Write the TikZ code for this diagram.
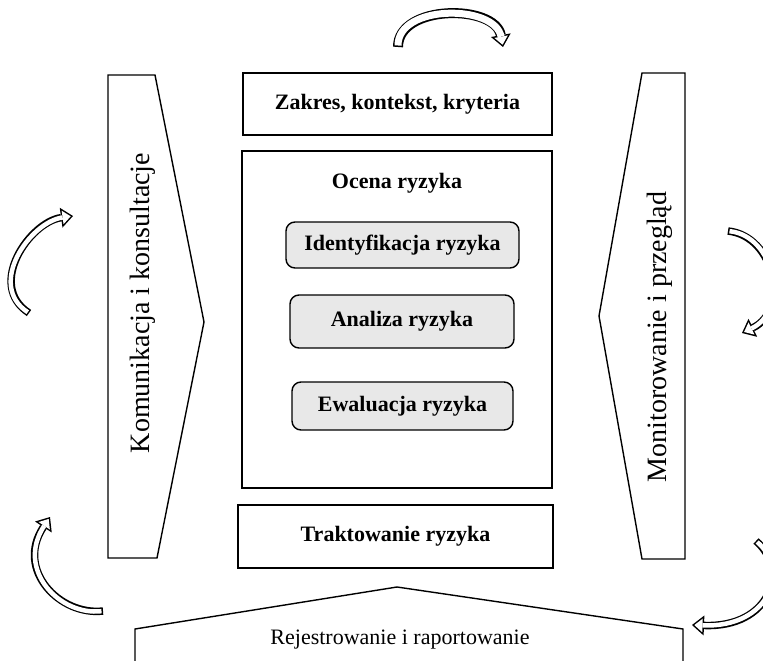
\documentclass[tikz,border=0pt]{standalone}
\usepackage{fontspec}
\setmainfont{Liberation Serif}
\usetikzlibrary{arrows.meta}

% hollow curved block arrow: black ribbon with a white core
\newcommand\ribbonarrow[2]{%
  \draw[line width=#1, -{Triangle[length=12pt,width=20pt,line width=0pt]}] #2;
  \draw[white, line width=#1-3pt, shorten <=1.5pt, shorten >=2.34pt,
        -{Triangle[length=8.16pt,width=13.6pt,line width=0pt]}] #2;
}

\begin{document}
\begin{tikzpicture}[x=1pt,y=-1pt,
  frame/.style={draw, line width=1.4pt},
  titlebox/.style={frame, inner sep=0pt, font=\bfseries\fontsize{22}{26}\selectfont},
  stepbox/.style={draw, line width=1.4pt, fill=gray!18, rounded corners=9pt,
                  inner sep=0pt, font=\bfseries\fontsize{22}{26}\selectfont},
  sidetext/.style={rotate=90, inner sep=0pt, font=\fontsize{28}{32}\selectfont},
  bottomtext/.style={inner sep=0pt, font=\fontsize{22}{26}\selectfont}]

\useasboundingbox (0,0) rectangle (763,661);

% central column
\node[titlebox, minimum width=309pt, minimum height=62pt] (scope) at (397.5,104) {Zakres, kontekst, kryteria};
\node[frame, minimum width=310pt, minimum height=337pt] (assess) at (397,319.5) {};
\node[inner sep=0pt, font=\bfseries\fontsize{22}{26}\selectfont] (assesslabel) at (397,183) {Ocena ryzyka};
\node[stepbox, minimum width=233pt, minimum height=46pt] (ident) at (402.5,245) {Identyfikacja ryzyka};
\node[stepbox, minimum width=224pt, minimum height=53pt] (analysis) at (402,321.5) {Analiza ryzyka};
\node[stepbox, minimum width=221pt, minimum height=48pt] (evaluation) at (402.5,406) {Ewaluacja ryzyka};
\node[titlebox, minimum width=315pt, minimum height=63pt] (treat) at (395.5,536.5) {Traktowanie ryzyka};

% side pointers
\draw[frame] (108,75) -- (155,75) -- (204,322) -- (157,558) -- (108,558) -- cycle;
\node[sidetext] (comm) at (143,303) {Komunikacja i konsultacje};
\draw[frame] (685,73) -- (642,73) -- (599,316) -- (642,559) -- (685,559) -- cycle;
\node[sidetext] (monitor) at (660,337) {Monitorowanie i przegląd};

% bottom pointer
\draw[frame] (135,680) -- (135,629) -- (397,587) -- (683,629) -- (683,680);
\node[bottomtext] (record) at (400,640) {Rejestrowanie i raportowanie};

% curved arrows around the process
\ribbonarrow{10pt}{(398,47) .. controls (398,4) and (495,4) .. (503,47)}
\ribbonarrow{7.5pt}{(29,313) .. controls (-14,285) and (30,222) .. (73,216)}
\ribbonarrow{7.5pt}{(728,231) .. controls (775,236) and (790,310) .. (742,333)}
\ribbonarrow{7.5pt}{(103,611) .. controls (60,616) and (15,570) .. (50,517)}
\ribbonarrow{7.5pt}{(756,541) .. controls (790,570) and (770,628) .. (692,625)}

\end{tikzpicture}
\end{document}
